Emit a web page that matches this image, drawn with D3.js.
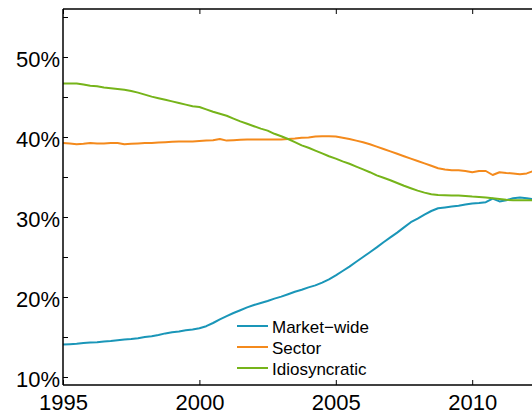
<!DOCTYPE html>
<html>
<head>
<meta charset="utf-8">
<script src="https://cdn.jsdelivr.net/npm/d3@7"></script>
<style>
  html, body { margin: 0; padding: 0; background: #fff; }
  svg { display: block; font-family: "Liberation Sans", Arial, Helvetica, sans-serif; }
</style>
</head>
<body>
<svg id="chart" width="532" height="414"></svg>
<script>
// Quarterly observation dates (decimal years)
const dates = [
  1995.00, 1995.25, 1995.50, 1995.75, 1996.00, 1996.25, 1996.50, 1996.75,
  1997.00, 1997.25, 1997.50, 1997.75, 1998.00, 1998.25, 1998.50, 1998.75,
  1999.00, 1999.25, 1999.50, 1999.75, 2000.00, 2000.25, 2000.50, 2000.75,
  2001.00, 2001.25, 2001.50, 2001.75, 2002.00, 2002.25, 2002.50, 2002.75,
  2003.00, 2003.25, 2003.50, 2003.75, 2004.00, 2004.25, 2004.50, 2004.75,
  2005.00, 2005.25, 2005.50, 2005.75, 2006.00, 2006.25, 2006.50, 2006.75,
  2007.00, 2007.25, 2007.50, 2007.75, 2008.00, 2008.25, 2008.50, 2008.75,
  2009.00, 2009.25, 2009.50, 2009.75, 2010.00, 2010.25, 2010.50, 2010.75,
  2011.00, 2011.25, 2011.50, 2011.75, 2012.00, 2012.25
];

// Variance shares, in percent
const marketWide = [
  14.05, 14.1, 14.15, 14.25, 14.3, 14.35, 14.45, 14.5,
  14.6, 14.7, 14.75, 14.85, 15.0, 15.1, 15.25, 15.45,
  15.6, 15.7, 15.85, 15.95, 16.1, 16.35, 16.75, 17.2,
  17.6, 18.0, 18.35, 18.7, 19.0, 19.25, 19.5, 19.8,
  20.05, 20.35, 20.65, 20.9, 21.2, 21.45, 21.8, 22.2,
  22.7, 23.25, 23.8, 24.4, 25.0, 25.6, 26.2, 26.85,
  27.45, 28.05, 28.7, 29.35, 29.8, 30.3, 30.75, 31.1,
  31.2, 31.3, 31.4, 31.55, 31.7, 31.75, 31.85, 32.3,
  31.95, 32.1, 32.35, 32.45, 32.35, 32.2
];

const sector = [
  39.25, 39.2, 39.1, 39.15, 39.25, 39.2, 39.2, 39.25,
  39.25, 39.1, 39.15, 39.2, 39.25, 39.25, 39.3, 39.35,
  39.4, 39.45, 39.45, 39.45, 39.5, 39.55, 39.6, 39.75,
  39.55, 39.6, 39.65, 39.7, 39.7, 39.7, 39.7, 39.7,
  39.7, 39.75, 39.8, 39.9, 39.95, 40.05, 40.1, 40.1,
  40.05, 39.9, 39.75, 39.55, 39.35, 39.1, 38.8, 38.5,
  38.2, 37.9, 37.6, 37.3, 37.0, 36.7, 36.4, 36.1,
  35.95, 35.85, 35.85, 35.75, 35.6, 35.75, 35.75, 35.25,
  35.6, 35.5, 35.45, 35.35, 35.45, 35.75
];

const idiosyncratic = [
  46.7, 46.7, 46.7, 46.55, 46.4, 46.35, 46.2, 46.1,
  46.0, 45.9, 45.75, 45.55, 45.3, 45.05, 44.85, 44.65,
  44.45, 44.25, 44.05, 43.85, 43.75, 43.45, 43.15, 42.9,
  42.65, 42.3, 41.95, 41.65, 41.35, 41.05, 40.8, 40.4,
  40.1, 39.75, 39.35, 38.95, 38.65, 38.3, 37.95, 37.6,
  37.3, 36.95, 36.65, 36.3, 35.95, 35.6, 35.2, 34.9,
  34.6, 34.25, 33.9, 33.6, 33.3, 33.05, 32.85, 32.75,
  32.72, 32.7, 32.68, 32.62, 32.55, 32.5, 32.45, 32.35,
  32.25, 32.15, 32.1, 32.1, 32.1, 32.1
];

const seriesNames = ["Market\u2212wide", "Sector", "Idiosyncratic"];
const seriesValues = [marketWide, sector, idiosyncratic];
const seriesColors = ["#1a96b8", "#f48a1c", "#76b41a"];

const yTicks = [10, 15, 20, 25, 30, 35, 40, 45, 50, 55];
const xTicks = [1995, 2000, 2005, 2010];

const svg = d3.select("#chart");
const plotLeft = 63, plotTop = 9, plotBottom = 385;
const x = d3.scaleLinear().domain([1995, 2013]).range([plotLeft, plotLeft + 18 * 27.28]);
const y = d3.scaleLinear().domain([9, 56]).range([plotBottom, plotTop]);
const plotRight = x.range()[1];

// data lines
const line = d3.line().x((d, i) => x(dates[i])).y(d => y(d));
seriesValues.forEach((vals, k) => {
  svg.append("path")
    .datum(vals)
    .attr("fill", "none")
    .attr("stroke", seriesColors[k])
    .attr("stroke-width", 2)
    .attr("stroke-linejoin", "round")
    .attr("d", line);
});

// axes box
const fontSize = 22;
const yAxis = d3.axisLeft(y)
  .tickValues(yTicks)
  .tickSize(-5)
  .tickPadding(3)
  .tickFormat(d => d % 10 === 0 ? d + "%" : "");
const gy = svg.append("g").attr("transform", `translate(${plotLeft},0)`).call(yAxis);

const xAxis = d3.axisBottom(x)
  .tickValues(xTicks)
  .tickSize(-5)
  .tickPadding(9)
  .tickFormat(d3.format("d"));
const gx = svg.append("g").attr("transform", `translate(0,${plotBottom})`).call(xAxis);

const xTop = d3.axisTop(x).tickValues(xTicks).tickSize(-5).tickFormat("");
const gt = svg.append("g").attr("transform", `translate(0,${plotTop})`).call(xTop);

[gy, gx, gt].forEach(g => {
  g.select(".domain").remove();
  g.selectAll(".tick line").attr("stroke", "#000").attr("stroke-width", 1);
  g.selectAll("text")
    .attr("fill", "#000")
    .style("font-family", '"Liberation Sans", Arial, Helvetica, sans-serif')
    .style("font-size", fontSize + "px");
});
gy.selectAll("text").attr("dy", "0.45em");

// frame lines
svg.append("line").attr("x1", plotLeft).attr("x2", plotLeft).attr("y1", plotTop).attr("y2", plotBottom)
  .attr("stroke", "#000").attr("stroke-width", 1.5);
svg.append("line").attr("x1", plotLeft).attr("x2", plotRight).attr("y1", plotBottom).attr("y2", plotBottom)
  .attr("stroke", "#000").attr("stroke-width", 1.5);
svg.append("line").attr("x1", plotLeft).attr("x2", plotRight).attr("y1", plotTop).attr("y2", plotTop)
  .attr("stroke", "#000").attr("stroke-width", 1.5);

// legend
const legend = svg.append("g").attr("transform", "translate(237,326)");
seriesNames.forEach((name, k) => {
  const row = legend.append("g").attr("transform", `translate(0,${k * 21})`);
  row.append("line").attr("x1", 0).attr("x2", 31).attr("y1", 0).attr("y2", 0)
    .attr("stroke", seriesColors[k]).attr("stroke-width", 2);
  row.append("text").attr("x", 35).attr("y", 6.5)
    .attr("fill", "#000")
    .style("font-size", "17px")
    .text(name);
});
</script>
</body>
</html>
